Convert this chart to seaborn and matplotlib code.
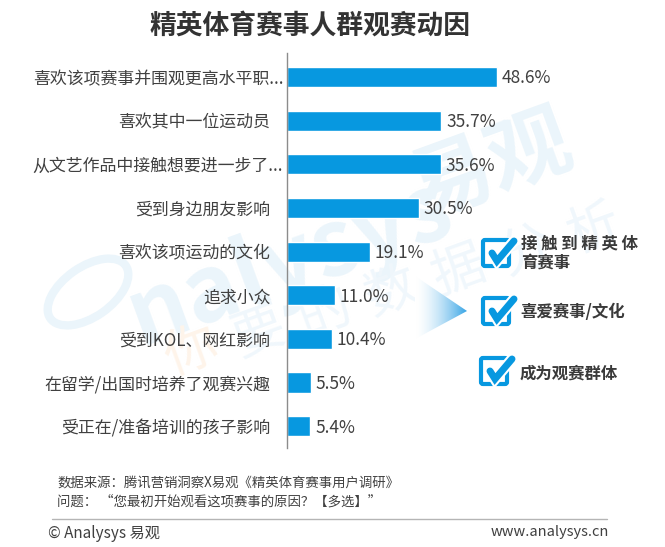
import numpy as np
import pandas as pd
import matplotlib
matplotlib.use('Agg')
import matplotlib.pyplot as plt
import seaborn as sns
from matplotlib.patches import FancyBboxPatch, Polygon, Ellipse

# values
reasons = ['喜欢该项赛事并围观更高水平职...', '喜欢其中一位运动员', '从文艺作品中接触想要进一步了...',
           '受到身边朋友影响', '喜欢该项运动的文化', '追求小众', '受到KOL、网红影响',
           '在留学/出国时培养了观赛兴趣', '受正在/准备培训的孩子影响']
shares = [48.6, 35.7, 35.6, 30.5, 19.1, 11.0, 10.4, 5.5, 5.4]
motives = ['接 触 到 精 英 体\n育赛事', '喜爱赛事/文化', '成为观赛群体']
title = '精英体育赛事人群观赛动因'
source = '数据来源：腾讯营销洞察X易观《精英体育赛事用户调研》'
question = '问题： “您最初开始观看这项赛事的原因？【多选】”'

W, H = 665, 547
BLUE = '#0798e0'
TEXT = '#404040'

sns.set_theme(style='white')
plt.rcParams['font.family'] = ['Noto Sans CJK SC', 'DejaVu Sans']

df = pd.DataFrame({'reason': reasons, 'share': shares})
fig = plt.figure(figsize=(W / 100, H / 100), dpi=100, facecolor='white')

# pixel canvas for watermark, text and icons
bg = fig.add_axes([0, 0, 1, 1])
bg.set_xlim(0, W)
bg.set_ylim(H, 0)
bg.axis('off')

# watermark
bg.add_patch(Ellipse((88, 292), 92, 50, angle=-35, fc='none', ec='#ebf5fb', lw=6, zorder=0))
bg.text(132, 320, 'nalysys', fontsize=66, color='#ebf5fb', rotation=20, weight='bold', style='italic',
        ha='left', va='center', rotation_mode='anchor', zorder=0)
bg.text(412, 195, '易观', fontsize=60, color='#ebf5fb', rotation=20, weight='bold',
        ha='left', va='center', rotation_mode='anchor', zorder=0)
for i, ch in enumerate('你要的数据分析'):
    bg.text(191 + 67 * i, 353 - 20.5 * i, ch, fontsize=38, color='#fef4ea' if i == 0 else '#f0f7fc',
            rotation=20, ha='center', va='center', zorder=0)

ax = fig.add_axes([287 / W, 1 - 448 / H, (W - 287) / W, 395 / H])
ax.patch.set_alpha(0)
sns.barplot(data=df, x='share', y='reason', color=BLUE, saturation=1, width=0.46, ax=ax)
ax.set_xlim(0, (W - 287) / 4.32)
ax.set_ylim(8.5, -0.55)
ax.set_xlabel('')
ax.set_ylabel('')
ax.set_xticks([])
ax.tick_params(axis='y', length=0, pad=12, labelsize=12.2, labelcolor=TEXT)
sns.despine(ax=ax, top=True, right=True, bottom=True)
ax.spines['left'].set_color('#8c8c8c')
ax.spines['left'].set_linewidth(1)
value_labels = ax.bar_label(ax.containers[0], fmt='%.1f%%', padding=3.5, fontsize=12.5, color=TEXT)
for t in value_labels:
    t.xyann = (t.xyann[0], t.xyann[1] - 1)

# the cut-off labels run closer to the axis
for lab in ax.get_yticklabels():
    if lab.get_text().endswith('...'):
        lab.set_transform(lab.get_transform() + matplotlib.transforms.Affine2D().translate(13, 0))

fig.text(310 / W, 1 - 26 / H, title, fontsize=19.3, weight='bold', color='#333333', ha='center', va='center')

# gradient arrow pointing at the three motives
grad = np.linspace(0, 1, 64).reshape(1, -1) ** 1.6
cmap = matplotlib.colors.LinearSegmentedColormap.from_list('arrow', ['#ffffff', '#3aa6e6'])
im = bg.imshow(grad, extent=(415, 467, 339, 276), cmap=cmap, aspect='auto', zorder=2)
im.set_clip_path(Polygon([(415, 276), (467, 311), (415, 339)], transform=bg.transData))
bg.set_xlim(0, W)
bg.set_ylim(H, 0)

# check boxes
for (x, y), motive, tx, ty in zip([(481, 238), (481, 296), (479, 356)], motives,
                                  [521, 520, 520], [253, 312, 374]):
    bg.add_patch(FancyBboxPatch((x + 2, y + 2), 26, 26, boxstyle='round,pad=0,rounding_size=2',
                                fc='white', ec=BLUE, lw=3, zorder=3))
    bg.plot([x + 11, x + 16, x + 33], [y + 15, y + 23, y + 3], color='white', lw=8,
            solid_capstyle='round', solid_joinstyle='miter', zorder=4)
    bg.plot([x + 11, x + 16, x + 33], [y + 15, y + 23, y + 3], color=BLUE, lw=5,
            solid_capstyle='round', solid_joinstyle='miter', zorder=5)
    bg.text(tx, ty, motive, fontsize=11.8, weight='bold', color='#3a3a3a', ha='left', va='center',
            linespacing=1.1, zorder=5)

# footer
bg.text(57, 483, source, fontsize=9.65, color=TEXT, ha='left', va='center')
bg.text(57, 502, question, fontsize=9.65, color=TEXT, ha='left', va='center')
bg.plot([52, 607], [519, 519], color='#b5b5b5', lw=1)
bg.text(48, 533, '© Analysys 易观', fontsize=11, color=TEXT, ha='left', va='center')
bg.text(609, 532, 'www.analysys.cn', fontsize=10.5, color=TEXT, ha='right', va='center')

fig.savefig('out.png', dpi=100)
